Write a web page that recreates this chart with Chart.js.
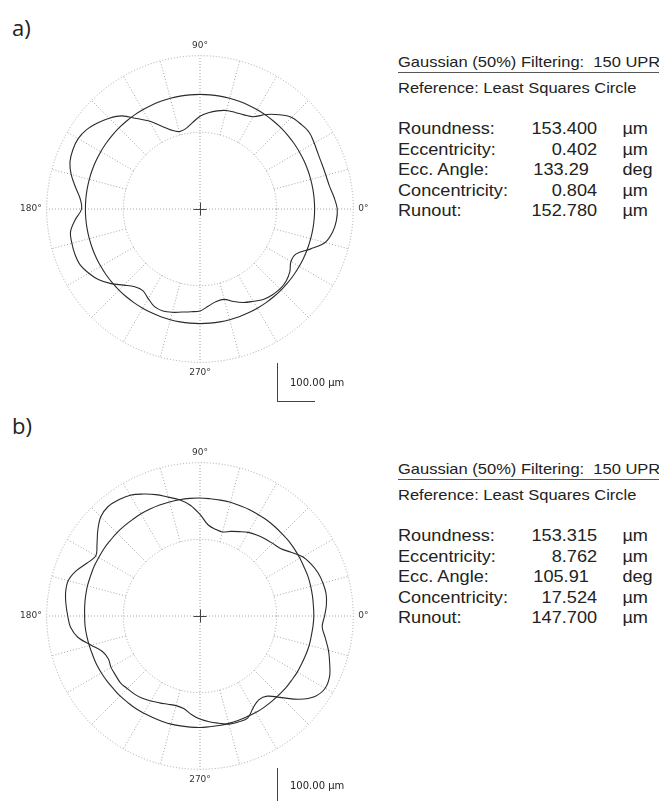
<!DOCTYPE html>
<html><head><meta charset="utf-8">
<script src="https://cdn.jsdelivr.net/npm/chart.js@4.4.1/dist/chart.umd.min.js"></script>
<style>
html,body{margin:0;padding:0;background:#fff;}
body{width:659px;height:801px;position:relative;overflow:hidden;font-family:"Liberation Sans",Arial,sans-serif;color:#222;}
.plot{position:absolute;width:360px;height:360px;}
.tag{position:absolute;left:12px;font-family:"Open Sans",sans-serif;font-size:22px;line-height:26px;color:#222;}
.panel{position:absolute;left:398px;top:0;width:240px;height:240px;transform:scaleX(1.1);transform-origin:0 0;}
.panel div{position:absolute;white-space:nowrap;line-height:20px;}
.hdr{font-size:15px;left:0;}
.rule{left:0;width:238px;height:1px;background:#555;}
.lab{font-size:16.5px;left:0;}
.val{font-size:16.5px;left:0;width:181px;text-align:right;}
.val2{font-size:16.5px;left:123px;}
.unit{font-size:16.5px;left:204px;}
.bar{position:absolute;background:#444;}
.bartxt{position:absolute;font-family:"DejaVu Sans",sans-serif;font-size:10px;line-height:12px;color:#222;white-space:nowrap;}
</style></head>
<body>
<div class="tag" style="top:14px">a)</div>
<div class="tag" style="top:412px">b)</div>
<div class="plot" style="left:15px;top:30px"><canvas id="plotA"></canvas></div>
<div class="plot" style="left:15px;top:437px"><canvas id="plotB"></canvas></div>
<div class="panel" id="panelA"></div>
<div class="panel" id="panelB" style="top:407px"></div>

<div class="bar" style="left:277px;top:363px;width:1px;height:38px"></div>
<div class="bar" style="left:277px;top:401px;width:38px;height:1px"></div>
<div class="bartxt" style="left:290px;top:377px">100.00 µm</div>
<div class="bar" style="left:277px;top:768px;width:1px;height:38px"></div>
<div class="bartxt" style="left:290px;top:780px">100.00 µm</div>

<script>
// polar angles (degrees, counter-clockwise from 0° at right), 5° steps
const ANGLES = [0,5,10,15,20,25,30,35,40,45,50,55,60,65,70,75,80,85,90,95,100,105,110,115,120,125,130,135,140,145,150,155,160,165,170,175,180,185,190,195,200,205,210,215,220,225,230,235,240,245,250,255,260,265,270,275,280,285,290,295,300,305,310,315,320,325,330,335,340,345,350,355];
// radial axis (µm): inner ring = 0, outer ring = 200
const R_MIN = -200, R_MAX = 200, R_STEP = 200;
const AXIS_LABELS = [0, 90, 180, 270];

// a) measured profile and least squares circle (µm)
const profileA = [158,151,143,140,139,140,144,148,144,138, 121,101,78,71,68,66,60,52,42,26, 13,9,19,39,65,88,117,135,149,161, 167,166,161,148,130,114,109,127,143,146, 147,145,135,122,103,81,65,60,70,81, 83,79,73,69,66,54,45,44,57,69, 78,88,93,95,93,86,74,77,106,138, 151,157];
const circleA = [99,99,99,99,99,99,99,99,99,99, 99,99,99,99,99,99,99,99,99,99, 99,99,99,99,99,99,99,99,99,99, 99,99,99,99,99,99,99,99,99,99, 99,99,99,99,99,99,99,99,99,99, 99,99,99,99,99,99,99,99,99,99, 99,99,99,99,99,99,99,99,99,99, 99,99];
// b) measured profile and least squares circle (µm)
const profileB = [125,131,134,132,128,120,109,90,74,68, 63,58,52,43,35,27,30,39,65,90, 108,121,137,151,164,170,173,166,148,128, 114,126,144,156,156,151,145,139,123,94, 71,64,68,69,71,68,66,62,56,50, 45,42,45,58,69,77,84,92,94,94, 77,67,73,101,138,166,177,173,160,147, 132,120];
const circleB = [97,97,98,99,100,100,101,102,103,103, 104,105,105,106,106,107,107,107,108,108, 108,108,108,108,108,107,107,107,106,106, 105,105,104,104,103,102,101,101,100,99, 98,98,97,96,95,95,94,94,93,92, 92,92,91,91,91,90,90,90,90,90, 91,91,91,91,92,92,93,93,94,95, 95,96];

// text panels
const PARAM_NAMES = ['Roundness:','Eccentricity:','Ecc. Angle:','Concentricity:','Runout:'];
const PARAM_UNITS = ['µm','µm','deg','µm','µm'];
const paramsA = ['153.400','0.402','133.29','0.804','152.780'];
const paramsB = ['153.315','8.762','105.91','17.524','147.700'];
const HEADER = 'Gaussian (50%) Filtering:  150 UPR';
const REFERENCE = 'Reference: Least Squares Circle';

function buildPanel(id, vals){
  const p = document.getElementById(id);
  let h = '<div class="hdr" style="top:52px">'+HEADER.replace(/  /g,'&nbsp; ')+'</div>';
  h += '<div class="rule" style="top:72px"></div>';
  h += '<div class="hdr" style="top:78px">'+REFERENCE+'</div>';
  PARAM_NAMES.forEach((n,i)=>{
    const top = 118 + i*20.5;
    h += '<div class="lab" style="top:'+top+'px">'+n+'</div>';
    if (PARAM_UNITS[i]==='deg') h += '<div class="val2" style="top:'+top+'px">'+vals[i]+'</div>';
    else h += '<div class="val" style="top:'+top+'px">'+vals[i]+'</div>';
    h += '<div class="unit" style="top:'+top+'px">'+PARAM_UNITS[i]+'</div>';
  });
  p.innerHTML = h;
}
buildPanel('panelA', paramsA);
buildPanel('panelB', paramsB);

const GRID = '#a4a4a4';
const spokes = {
  id:'spokes',
  beforeDatasetsDraw(chart){
    const s = chart.scales.r, ctx = chart.ctx, n = chart.data.labels.length;
    ctx.save();
    ctx.strokeStyle = GRID; ctx.lineWidth = 1; ctx.setLineDash([1,2]);
    for (let i=0;i<n;i++){
      if (i%3!==0 || i%18===0) continue;
      const a = s.getPointPositionForValue(i, 0), b = s.getPointPositionForValue(i, R_MAX);
      ctx.beginPath(); ctx.moveTo(a.x,a.y); ctx.lineTo(b.x,b.y); ctx.stroke();
    }
    ctx.restore();
  }
};
const crosshair = {
  id:'crosshair',
  afterDatasetsDraw(chart){
    const s = chart.scales.r, ctx = chart.ctx, x = s.xCenter, y = s.yCenter;
    ctx.save(); ctx.strokeStyle = '#444'; ctx.lineWidth = 1;
    ctx.beginPath(); ctx.moveTo(x-6.5,y+0.5); ctx.lineTo(x+6.5,y+0.5); ctx.moveTo(x+0.5,y-6.5); ctx.lineTo(x+0.5,y+6.5); ctx.stroke();
    ctx.restore();
  }
};

function makePlot(id, profile, circle){
  const n = ANGLES.length;
  const order = ANGLES.map((_,i)=>(n-i)%n); // counter-clockwise from 0° at right
  new Chart(document.getElementById(id), {
    type:'radar',
    data:{
      labels: order.map(k=>ANGLES[k]),
      datasets:[
        {data: order.map(k=>profile[k]), borderColor:'#2a2a2a', backgroundColor:'transparent', borderWidth:1.1, pointRadius:0, fill:false, tension:0.35},
        {data: order.map(k=>circle[k]), borderColor:'#2a2a2a', backgroundColor:'transparent', borderWidth:1.1, pointRadius:0, fill:false, tension:0.35}
      ]
    },
    options:{
      responsive:true, maintainAspectRatio:false, animation:false,
      layout:{padding:0},
      plugins:{legend:{display:false}, tooltip:{enabled:false}},
      scales:{ r:{
        min:R_MIN, max:R_MAX, startAngle:90,
        ticks:{display:false, stepSize:R_STEP},
        grid:{circular:true, color:GRID, lineWidth:1},
        border:{dash:[1,2]},
        angleLines:{display:true, color:c=>(c.index%18===0?GRID:'rgba(0,0,0,0)'), lineWidth:c=>(c.index%18===0?1:0), borderDash:[1,2]},
        pointLabels:{display:true, padding:5, color:'#333', font:{family:'DejaVu Sans', size:9}, callback:v=>(AXIS_LABELS.includes(v)? v+'°' : '')}
      }}
    },
    plugins:[spokes, crosshair]
  });
}
makePlot('plotA', profileA, circleA);
makePlot('plotB', profileB, circleB);
</script>
</body></html>
